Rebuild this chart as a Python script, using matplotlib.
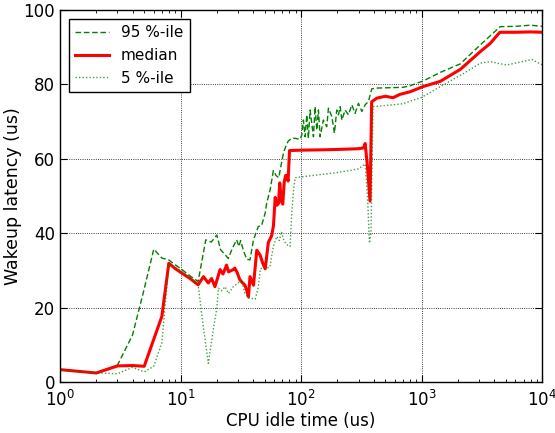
import matplotlib
matplotlib.use("Agg")
import matplotlib.pyplot as plt

med_x = [1, 2, 3, 4, 5, 7, 8, 9, 10, 12, 14, 15.5, 17, 18.1, 19.3, 21.3, 22.5, 24.1, 25,
         27.4, 28.2, 29.5, 31.1, 34.2, 35.5, 36.6, 37.7, 40.3, 42.9, 45.7, 48, 50.4, 53.5,
         57, 59, 61, 63, 65, 66.5, 68.8, 70.5, 72.5, 74.5, 76.1, 78, 80.2, 100, 150, 200,
         250, 300, 329, 340, 355, 373, 385, 425, 500, 578, 660, 800, 1028, 1425, 2088,
         3063, 3700, 4450, 6000, 8000, 10000]
med_y = [3.3, 2.4, 4.3, 4.4, 4.2, 17.6, 31.9, 30.5, 29.5, 27.8, 26.1, 28.3, 26.6, 27.8, 25.6,
         30.2, 29.0, 31.4, 29.6, 30.2, 30.6, 29.4, 27.4, 26.0, 24.5, 22.9, 28.3, 26.0, 35.4,
         34.1, 32.0, 30.4, 37.5, 39.3, 42.0, 49.6, 47.5, 48.0, 53.5, 48.5, 47.8, 53.8, 55.5,
         55.5, 54.0, 62.2, 62.3, 62.4, 62.5, 62.6, 62.7, 62.9, 64.1, 58.0, 48.6, 75.3, 76.3,
         76.8, 76.4, 77.3, 78.0, 79.4, 80.8, 84.0, 88.8, 91.0, 94.0, 94.0, 94.1, 94.0]

p95_x = [1, 2, 3, 4, 5, 6, 7, 8, 9, 10, 12, 14, 16.2, 18, 20, 21.5, 23, 24.9, 27, 29.2, 30.5,
         31.5, 33.5, 35.4, 37.7, 40.3, 44.2, 47, 50.4, 51.9, 55.4, 58.9, 62, 65.3, 68, 71.5,
         75, 78.4, 84, 89.2, 98.2, 101.4, 104.5, 108, 111.5, 114.9, 118.8, 126.6, 130.6, 135,
         139.2, 143.8, 153, 163.3, 168.6, 180, 189, 197.7, 204, 210.9, 217.8, 231.9, 247,
         263.6, 280.6, 299, 319, 339.8, 362, 374, 386, 425, 548, 700, 800, 1028, 1425, 2088,
         3063, 4480, 6000, 8000, 10000]
p95_y = [3.3, 2.4, 4.5, 12.6, 25.0, 35.7, 33.3, 32.8, 31.5, 30.5, 28.5, 27.0, 38.2, 37.6, 39.5,
         35.5, 34.5, 33.2, 36.0, 38.2, 36.4, 38.0, 35.0, 33.0, 32.8, 38.2, 41.8, 42.0, 45.4,
         48.1, 51.7, 56.8, 55.5, 54.9, 58.0, 61.6, 63.5, 64.8, 65.5, 65.5, 65.2, 66.4, 70.4,
         65.9, 71.8, 65.5, 73.1, 65.9, 74.0, 67.7, 73.1, 65.9, 70.4, 68.6, 73.6, 71.3, 66.9,
         73.1, 71.8, 74.0, 70.4, 73.1, 71.8, 74.5, 72.2, 74.9, 72.7, 74.5, 75.4, 77.2, 78.8,
         79.0, 79.1, 79.2, 79.6, 80.9, 83.2, 85.5, 90.6, 95.5, 95.6, 95.9, 95.6]

p5_x = [1, 2, 3, 4, 5, 6, 7, 8, 9, 10, 12, 14, 15, 17, 18.7, 20, 20.6, 22, 23.4, 25, 27.4, 29,
        32.2, 34, 36.6, 40, 41.7, 44.2, 46, 50, 55, 58.9, 62.9, 66, 68.8, 72, 76.1, 81, 83.7,
        86.7, 89.2, 111.5, 150, 200, 250, 300, 340, 355, 369, 380, 395, 500, 700, 855, 975,
        1428, 2220, 3063, 3700, 5050, 6600, 8200, 9600, 10000]
p5_y = [3.3, 2.4, 2.2, 3.9, 2.7, 4.2, 10.5, 31.6, 30.8, 30.0, 28.0, 26.3, 18.0, 5.0, 14.0, 19.8,
        25.2, 24.5, 25.6, 23.8, 25.6, 26.2, 27.4, 24.0, 22.5, 22.4, 22.3, 25.6, 30.5, 30.6,
        30.8, 36.4, 39.1, 38.0, 40.4, 38.0, 36.9, 36.4, 45.4, 51.7, 54.9, 55.3, 55.8, 56.3,
        56.8, 57.3, 58.6, 50.0, 37.3, 40.0, 74.0, 74.3, 74.8, 75.8, 76.3, 79.4, 82.9, 85.7,
        86.1, 85.2, 86.0, 86.7, 85.5, 85.3]

plt.rcParams['font.size'] = 11
plt.rcParams['mathtext.fontset'] = 'dejavusans'

fig = plt.figure(figsize=(5.55, 4.33), dpi=100)
ax = fig.add_axes([0.108, 0.118, 0.869, 0.859])

ax.plot(p95_x, p95_y, color='g', lw=1, ls=(0, (4, 2)), label='95 %-ile')
ax.plot(med_x, med_y, color='r', lw=2.2, label='median')
ax.plot(p5_x, p5_y, color='g', lw=1, ls=(0, (1, 1.5)), alpha=0.75, label='5 %-ile')

ax.set_xscale('log')
ax.set_xlim(1, 1e4)
ax.set_ylim(0, 100)
ax.set_xlabel("CPU idle time (us)", fontsize=12, labelpad=1)
ax.set_ylabel("Wakeup latency (us)", fontsize=12.5, labelpad=1)
ax.grid(True, color='k', ls=':', lw=0.6)
ax.tick_params(axis='both', which='both', direction='in', top=True, right=True, labelsize=12)
ax.tick_params(which='major', length=5)
ax.tick_params(which='minor', length=2.5)
ax.tick_params(axis='x', which='major', pad=6)
for s in ax.spines.values():
    s.set_linewidth(1)

ax.legend(loc='upper left', fancybox=False, edgecolor='k', framealpha=1,
          handlelength=2.2, borderaxespad=0.6)

fig.savefig("out.png", dpi=100, facecolor='white')
